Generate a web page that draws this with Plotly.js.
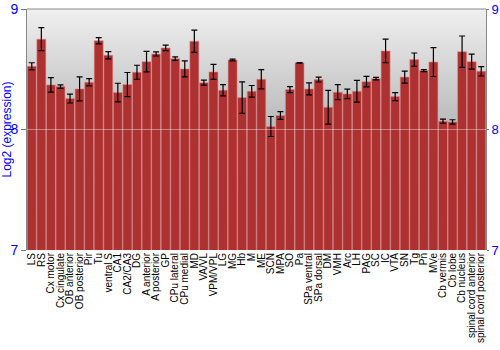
<!DOCTYPE html>
<html><head><meta charset="utf-8">
<script src="https://cdn.plot.ly/plotly-3.0.1.min.js"></script>
<style>html,body{margin:0;padding:0;background:#fff}#chart{width:500px;height:350px}</style>
</head><body><div id="chart"></div>
<script>
var regions = ["LS","RS","Cx motor","Cx cingulate","OB anterior","OB posterior","Pir","Tu","ventral S","CA1","CA2/CA3","DG","A anterior","A posterior","GP","CPu lateral","CPu medial","MD","VA/VL","VPM/VPL","LG","MG","Hb","M","ME","SCN","MPA","SO","Pa","SPa ventral","SPa dorsal","DM","VMH","Arc","LH","PAG","SC","IC","VTA","SN","Tg","Pn","MVe","Cb vermis","Cb lobe","Cb nucleus","spinal cord anterior","spinal cord posterior"];
var expression = [8.524,8.75,8.37,8.356,8.257,8.337,8.392,8.737,8.616,8.307,8.373,8.475,8.563,8.627,8.677,8.588,8.503,8.732,8.389,8.478,8.326,8.577,8.265,8.317,8.417,8.025,8.116,8.331,8.553,8.337,8.414,8.185,8.31,8.295,8.317,8.397,8.422,8.652,8.273,8.435,8.58,8.489,8.56,8.069,8.063,8.646,8.563,8.483];
var errors = [0.03,0.095,0.06,0.015,0.037,0.1,0.03,0.026,0.03,0.077,0.1,0.058,0.085,0.017,0.023,0.015,0.067,0.092,0.02,0.062,0.047,0.007,0.13,0.048,0.08,0.083,0.032,0.025,0.003,0.05,0.02,0.14,0.063,0.04,0.09,0.044,0.01,0.098,0.033,0.05,0.055,0.008,0.12,0.017,0.018,0.13,0.062,0.039];
var yTicks = [7,8,9];

var grad = 'data:image/svg+xml;utf8,' + encodeURIComponent(
 '<svg xmlns="http://www.w3.org/2000/svg" width="10" height="100" preserveAspectRatio="none">' +
 '<defs><linearGradient id="g" x1="0" y1="0" x2="0" y2="1">' +
 '<stop offset="0" stop-color="#f0f0f0"/><stop offset="0.5" stop-color="#b8b8b8"/><stop offset="1" stop-color="#a0a0a0"/>' +
 '</linearGradient></defs><rect width="10" height="100" fill="url(#g)"/></svg>');

var trace = {
  type: 'bar', x: regions, y: expression,
  marker: {color: '#ad3131', line: {color: 'rgba(225,140,140,0.55)', width: 1}},
  error_y: {type: 'data', array: errors, visible: true, color: '#000', thickness: 1.2, width: 3},
  hoverinfo: 'x+y'
};
var ghost = {type: 'bar', x: [regions[0]], y: [null], yaxis: 'y2', showlegend: false, hoverinfo: 'skip'};

var layout = {
  width: 500, height: 350,
  margin: {l: 27, r: 14, t: 9, b: 100},
  paper_bgcolor: '#fff', plot_bgcolor: 'rgba(0,0,0,0)',
  showlegend: false, bargap: 0.06, barmode: 'overlay',
  font: {family: 'Liberation Sans, Arial, sans-serif'},
  xaxis: {type: 'category', range: [-0.5, regions.length - 0.5], tickmode: 'array', tickvals: regions, tickangle: -90,
    tickfont: {size: 10, color: '#000'}, showgrid: false, showline: false, ticks: '', zeroline: false, automargin: false},
  yaxis: {range: [7, 9], tickvals: yTicks, ticktext: yTicks.map(String), ticks: 'outside', ticklen: 5, tickcolor: '#777',
    showline: true, linecolor: '#888', linewidth: 1, showgrid: false, zeroline: false,
    tickfont: {size: 14, color: '#0000ff'}, title: {text: 'Log2 (expression)', font: {size: 12, color: '#0000ff'}, standoff: 4}, automargin: false},
  yaxis2: {overlaying: 'y', side: 'right', range: [7, 9], tickvals: yTicks, ticks: 'outside', ticklen: 2, tickcolor: '#777',
    showline: true, linecolor: '#888', linewidth: 1, showgrid: false, zeroline: false,
    tickfont: {size: 13, color: '#0000ff'}, automargin: false},
  images: [{source: grad, xref: 'paper', yref: 'paper', x: 0, y: 1, sizex: 1, sizey: 1, sizing: 'stretch', layer: 'below'}],
  shapes: [
    {type: 'line', xref: 'paper', yref: 'paper', x0: 0, x1: 1, y0: 1, y1: 1, line: {color: '#888', width: 1}},
    {type: 'line', xref: 'paper', yref: 'y', x0: 0, x1: 1, y0: 8, y1: 8, line: {color: 'rgba(255,255,255,0.4)', width: 1}, layer: 'above'}
  ]
};
Plotly.newPlot('chart', [trace, ghost], layout, {displayModeBar: false, staticPlot: true});
</script></body></html>
